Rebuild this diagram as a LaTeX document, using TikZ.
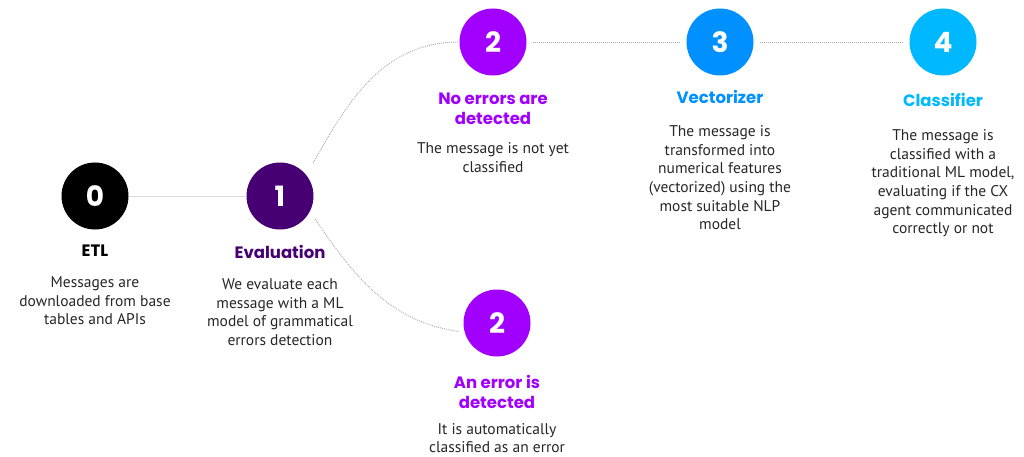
\documentclass[tikz,border=0pt]{standalone}
\usepackage{fontspec}
\setmainfont{PT Sans}
\newfontfamily\titlefont{Poppins}
\usetikzlibrary{positioning}

\definecolor{etlblack}{HTML}{000000}
\definecolor{evalpurple}{HTML}{460073}
\definecolor{brightpurple}{HTML}{A100FF}
\definecolor{vecblue}{HTML}{0090FF}
\definecolor{clsblue}{HTML}{00B8FF}
\definecolor{linkgray}{HTML}{A8A8A8}

\begin{document}
\begin{tikzpicture}[
    x=1pt,y=-1pt,
    stage/.style={circle,inner sep=0pt,minimum size=67pt,text=white,
      font=\titlefont\fontsize{28}{28}\selectfont\bfseries},
    title/.style={inner sep=0pt,align=center,
      font=\titlefont\fontsize{16.5}{20.5}\selectfont\bfseries},
    body/.style={inner sep=0pt,align=center,text=black!85,
      font=\fontsize{15.5}{18.6}\selectfont},
    solidlink/.style={draw=black!15,line width=1pt},
    dotlink/.style={draw=linkgray,line width=0.9pt,dash pattern=on 0.9pt off 1.1pt}
    ]

    \useasboundingbox (0,0) rectangle (1024,457);

    % stages
    \node (s0) [stage,fill=etlblack] at (95,196) {0};
    \node (s1) [stage,fill=evalpurple] at (280,196) {1};
    \node (s2a) [stage,fill=brightpurple] at (493,42) {2};
    \node (s2b) [stage,fill=brightpurple] at (497,323) {2};
    \node (s3) [stage,fill=vecblue] at (720,42) {3};
    \node (s4) [stage,fill=clsblue] at (943,42) {4};

    % titles
    \node (t0) [title,below=15pt of s0] {ETL};
    \node (t1) [title,text=evalpurple,below=15pt of s1] {Evaluation};
    \node (t2a) [title,text=brightpurple,below=17pt of s2a] {No errors are\\detected};
    \node (t2b) [title,text=brightpurple,below=18pt of s2b] {An error is\\detected};
    \node (t3) [title,text=vecblue,below=14pt of s3] {Vectorizer};
    \node (t4) [title,text=clsblue,below=17pt of s4] {Classifier};

    % descriptions
    \node (d0) [body,below=20pt of t0] {Messages are\\downloaded from base\\tables and APIs};
    \node (d1) [body,below=20pt of t1] {We evaluate each\\message with a ML\\model of grammatical\\errors detection};
    \node (d2a) [body,below=17pt of t2a] {The message is not yet\\classified};
    \node (d2b) [body,below=14pt of t2b] {It is automatically\\classified as an error};
    \node (d3) [body,below=22pt of t3] {The message is\\transformed into\\numerical features\\(vectorized) using the\\most suitable NLP\\model};
    \node (d4) [body,below=23pt of t4] {The message is\\classified with a\\traditional ML model,\\evaluating if the CX\\agent communicated\\correctly or not};

    % links
    \draw[solidlink] (s0) -- (s1);
    \draw[dotlink,shorten <=14pt] (s1.39) to[out=60,in=180] (s2a.west);
    \draw[dotlink,shorten <=9pt,shorten >=6pt] (s1.-27) to[out=-56,in=172] (s2b.196);
    \draw[dotlink] ([xshift=6pt]s2a.east) -- ([xshift=-6pt]s3.west);
    \draw[dotlink] ([xshift=6pt]s3.east) -- ([xshift=-6pt]s4.west);

  \end{tikzpicture}
\end{document}
